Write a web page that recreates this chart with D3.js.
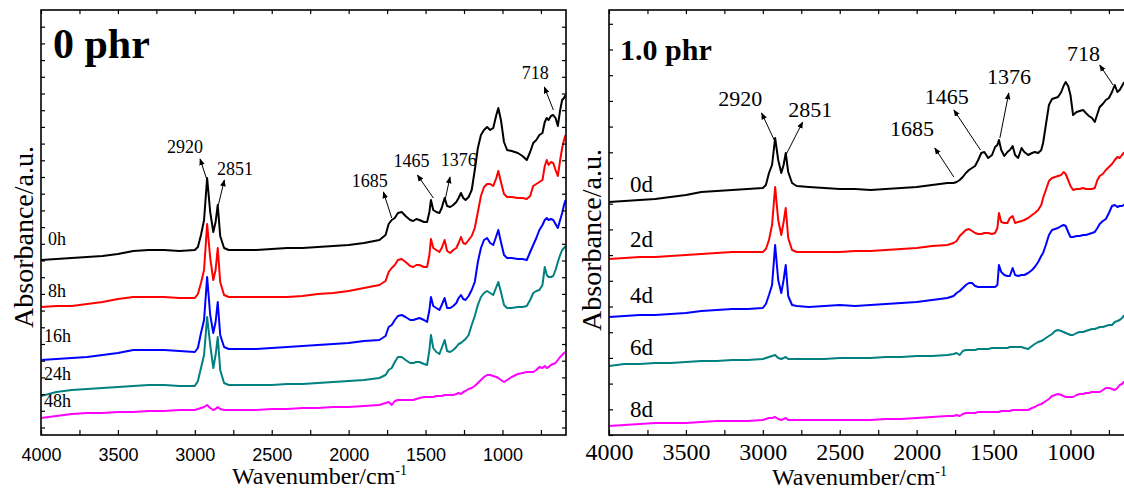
<!DOCTYPE html>
<html><head><meta charset="utf-8">
<script src="https://cdn.jsdelivr.net/npm/d3@7"></script>
<style>body{margin:0;background:#fff}</style>
</head><body><svg id="c" width="1124" height="490"></svg>
<script>
// ---------- Left panel (0 phr) ----------
const wnL = [4000,3900,3800,3700,3600,3500,3400,3300,3200,3100,3000,2980,2960,2940,2920,2900,2880,2865,2851,2835,2810,2780,2700,2600,2500,2400,2300,2200,2100,2000,1900,1800,1760,1740,1720,1700,1680,1655,1630,1600,1580,1560,1540,1510,1490,1475,1465,1450,1430,1410,1395,1376,1360,1340,1320,1300,1285,1270,1255,1240,1220,1200,1180,1160,1140,1120,1100,1080,1060,1040,1027,1010,990,970,940,900,870,842,820,800,780,760,740,725,712,700,685,670,655,640,625,612,600,590];
const abs0h = [175,176,177,178,179,181,184,185,185,184,185,188,200,215,257,223,203,213,230,199,187,185,185,185,186,187,187,188,189,190,192,195,200,211,215,217,222,223,219,215,214,216,215,213,213,223,235,225,223,222,227,237,229,228,230,233,237,242,237,235,238,245,265,287,300,305,308,305,307,320,327,315,293,285,284,282,279,275,283,292,295,300,302,313,317,315,319,320,317,309,325,335,337,340];
const abs8h = [128,129,129,131,133,136,138,138,138,137,137,141,152,165,211,177,155,165,187,153,140,138,138,138,138,138,139,141,142,144,147,150,154,163,167,170,175,176,173,169,168,170,170,168,168,180,196,187,185,183,187,195,184,182,185,187,192,198,192,191,195,199,207,223,239,248,251,251,249,257,264,253,241,238,238,237,237,236,239,249,251,253,255,269,275,270,273,272,265,259,275,287,295,300];
const abs16h = [75,76,77,78,80,82,85,85,85,84,83,87,102,115,158,120,102,113,133,100,88,86,86,86,87,88,89,90,91,92,94,95,99,108,110,115,119,120,118,115,115,116,117,115,113,125,138,129,127,125,130,137,127,127,129,132,137,140,136,135,139,145,153,173,187,195,197,192,190,199,205,193,180,177,177,176,176,175,183,190,197,205,210,215,217,215,216,215,211,207,215,222,230,235];
const abs24h = [39,43,45,46,47,48,49,50,50,49,49,54,67,80,118,90,67,80,98,65,52,50,50,50,50,51,51,52,53,54,55,57,60,65,67,73,78,78,75,72,72,73,73,71,70,85,100,87,83,81,87,95,84,83,85,88,91,92,94,96,100,110,119,130,138,142,144,142,140,148,153,143,130,127,127,128,128,129,135,142,144,145,150,168,160,158,158,159,165,173,180,185,187,189];
const abs48h = [17,19,21,22,22,23,23,24,24,25,25,26,27,28,30,27,25,26,28,26,25,25,25,25,26,26,27,27,28,28,29,30,32,33,30,34,35,35,35,35,35,36,37,38,38,38,38,38,39,39,39,40,40,40,40,41,42,41,43,44,46,47,49,52,55,58,60,60,59,58,57,55,53,55,58,61,62,63,63,63,65,68,67,69,67,68,70,71,72,75,78,80,82,83];
const seriesNamesL = ["0h","8h","16h","24h","48h"];
const labelWnL = [3954,3954,3980,3980,3980];
const labelAbsL = [190,138,93,55,28];
const peakTextL = ["2920","2851","1685","1465","1376","718"];
const peakTextWnL = [3181,2856,1980,1709,1401,875];
const peakTextAbsL = [282,260,248,268,269,356];
const arrowHeadWnL = [2966,2808,1774,1553,1341,728];
const arrowHeadAbsL = [276,255,243,260,258,348];
const arrowTailWnL = [2921,2847,1720,1449,1373,669];
const arrowTailAbsL = [255,230,217,237,235,325];

// ---------- Right panel (1.0 phr) ----------
const wnR = [4000,3900,3800,3700,3600,3500,3400,3300,3200,3100,3000,2980,2960,2940,2920,2900,2880,2865,2851,2835,2810,2780,2700,2600,2500,2400,2300,2200,2100,2000,1900,1800,1760,1740,1720,1700,1680,1660,1640,1620,1600,1580,1560,1535,1510,1490,1475,1465,1450,1430,1410,1394,1376,1360,1340,1318,1300,1275,1250,1232,1210,1190,1178,1160,1140,1120,1100,1081,1060,1045,1031,1015,1000,983,960,940,918,900,880,860,842,825,810,790,770,750,730,712,695,680,665,654,640,620,600,590];
const abs0d = [233,234,235,236,238,240,243,244,245,246,247,250,262,270,297,275,262,270,282,263,252,249,248,247,246,246,245,246,247,248,250,252,252,253,255,258,262,265,267,269,275,282,283,277,280,288,290,295,285,279,283,285,289,280,277,287,283,280,282,283,282,285,292,310,330,336,337,338,343,349,353,349,340,320,323,324,325,322,319,317,313,321,328,331,335,337,343,350,343,345,349,352,353,355,355,355];
const abs2d = [176,177,178,178,179,180,181,182,183,183,183,186,195,210,248,215,200,213,227,197,185,183,183,183,183,184,184,185,186,187,189,190,192,194,199,202,205,206,204,202,201,201,202,202,201,202,207,222,213,212,212,217,219,212,213,214,215,217,220,222,225,230,237,245,254,257,258,259,260,263,261,255,249,245,246,246,247,246,246,246,247,255,259,261,265,268,271,275,278,277,280,282,283,285,285,285];
const abs4d = [118,119,120,120,121,122,124,125,126,126,127,131,140,150,190,155,142,155,170,139,130,129,128,129,130,129,130,131,132,133,135,137,139,142,144,147,150,152,152,149,148,148,148,148,148,148,150,170,163,160,159,159,167,160,159,160,160,162,165,168,173,179,182,190,200,205,206,207,209,210,209,203,198,198,199,199,200,200,201,202,203,207,211,214,216,222,229,230,228,229,229,230,231,232,233,233];
const abs6d = [69,71,71,72,72,73,74,74,75,75,76,77,78,79,80,77,76,77,78,76,76,76,76,76,77,77,77,78,78,79,79,80,81,82,80,84,85,85,85,85,86,86,86,86,87,87,87,87,87,87,87,88,88,88,88,88,87,86,89,91,93,94,95,97,99,101,104,105,104,103,102,101,100,100,102,103,103,104,105,106,106,107,108,108,109,110,110,113,114,115,117,119,120,121,122,123];
const abs8d = [9,10,11,12,12,12,13,14,14,14,15,16,17,17,18,16,15,16,17,15,15,15,15,15,15,15,15,16,16,17,18,19,19,20,19,21,22,22,22,22,23,23,23,23,23,23,23,23,24,24,24,24,25,25,25,25,25,25,27,28,30,31,32,34,36,39,40,41,40,39,38,38,38,38,40,41,41,42,42,43,43,43,43,45,47,47,46,45,47,50,51,53,54,55,56,57];
const seriesNamesR = ["0d","2d","4d","6d","8d"];
const labelWnR = [3864,3864,3864,3864,3864];
const labelAbsR = [243,188,132,80,18];
const peakTextR = ["2920","2851","1685","1465","1376","718"];
const peakTextWnR = [3290,2835,2174,1947,1542,1022];
const peakTextAbsR = [329,318,299,331,351,374];
const arrowHeadWnR = [3008,2741,1882,1758,1401,810];
const arrowHeadAbsR = [322,313,287,325,342,370];
const arrowTailWnR = [2926,2850,1758,1585,1459,723];
const arrowTailAbsR = [295,280,258,285,297,350];

const colors = ["#000000","#ff0000","#0000ff","#008080","#ff00ff"];
const xMajorTicks = [4000,3500,3000,2500,2000,1500,1000];
const xMinorTicks = [3750,3250,2750,2250,1750,1250,750];

const svg = d3.select("#c");
const defs = svg.append("defs");
defs.append("marker").attr("id","arr").attr("viewBox","0 0 10 10").attr("refX",9).attr("refY",5)
  .attr("markerWidth",7).attr("markerHeight",7).attr("markerUnits","userSpaceOnUse").attr("orient","auto")
  .append("path").attr("d","M0,1 L10,5 L0,9 Z").attr("fill","#000");

function panel(cfg){
  const x = d3.scaleLinear().domain([4000,587]).range([cfg.x0, cfg.x0+525]);
  const y = d3.scaleLinear().domain([0,425]).range([435,10]);
  const g = svg.append("g");
  const cid = "clip"+cfg.id;
  defs.append("clipPath").attr("id",cid).append("rect")
    .attr("x",cfg.x0).attr("y",10).attr("width",525).attr("height",425);
  const plot = g.append("g").attr("clip-path",`url(#${cid})`);
  const line = d3.line().x(d=>x(d[0])).y(d=>y(d[1]));
  cfg.series.forEach((vals,i)=>{
    const pts = cfg.wn.map((w,j)=>[w,vals[j]]).filter(p=>p[1]!==undefined);
    plot.append("path").attr("d",line(pts)).attr("fill","none")
      .attr("stroke",colors[i]).attr("stroke-width",2).attr("stroke-linejoin","round");
  });
  const bottom = g.append("g").attr("transform","translate(0,435)")
    .call(d3.axisBottom(x).tickValues(xMajorTicks).tickSizeInner(-5).tickSizeOuter(0).tickPadding(cfg.tickPad).tickFormat(d3.format("d")));
  bottom.select(".domain").remove();
  bottom.selectAll("text").attr("font-family",cfg.tickFont).attr("font-size",cfg.tickSize).attr("fill","#000");
  g.append("g").attr("transform","translate(0,435)")
    .call(d3.axisBottom(x).tickValues(xMinorTicks).tickSizeInner(-5).tickSizeOuter(0).tickFormat(""))
    .select(".domain").remove();
  const top = g.append("g").attr("transform","translate(0,10)")
    .call(d3.axisTop(x).tickValues(xMajorTicks.concat(xMinorTicks)).tickSizeInner(-4).tickSizeOuter(0).tickFormat(""));
  top.select(".domain").remove();
  const yt = d3.range(cfg.yOff, 425, cfg.yStep);
  const left = g.append("g").attr("transform",`translate(${cfg.x0},0)`)
    .call(d3.axisLeft(y).tickValues(yt).tickSizeInner(-4).tickSizeOuter(0).tickFormat(""));
  left.select(".domain").remove();
  const right = g.append("g").attr("transform",`translate(${cfg.x0+525},0)`)
    .call(d3.axisRight(y).tickValues(yt).tickSizeInner(-4).tickSizeOuter(0).tickFormat(""));
  right.select(".domain").remove();
  g.selectAll(".tick line").attr("stroke","#000").attr("stroke-width",1.2);
  g.append("rect").attr("x",cfg.x0).attr("y",10).attr("width",525).attr("height",425)
    .attr("fill","none").attr("stroke","#000").attr("stroke-width",1.6);
  cfg.labels.forEach((t,i)=>{
    g.append("text").attr("x",x(cfg.labelWn[i])).attr("y",y(cfg.labelAbs[i]))
      .attr("font-family","Liberation Serif").attr("font-size",cfg.labelSize).text(t);
  });
  cfg.peaks.forEach((t,i)=>{
    g.append("text").attr("x",x(cfg.peakWn[i])).attr("y",y(cfg.peakAbs[i]))
      .attr("font-family","Liberation Serif").attr("font-size",cfg.peakSize).text(t);
    g.append("line").attr("x1",x(cfg.tailWn[i])).attr("y1",y(cfg.tailAbs[i]))
      .attr("x2",x(cfg.headWn[i])).attr("y2",y(cfg.headAbs[i]))
      .attr("stroke","#000").attr("stroke-width",1).attr("marker-end","url(#arr)");
  });
  g.append("text").attr("x",x(cfg.titleWn)).attr("y",y(cfg.titleAbs))
    .attr("font-family","Liberation Serif").attr("font-weight","bold").attr("font-size",cfg.titleSize).text(cfg.title);
  const xt = g.append("text").attr("x",cfg.xTitleX).attr("y",cfg.xTitleY)
    .attr("font-family","Liberation Serif").attr("font-size",24);
  xt.append("tspan").text("Wavenumber/cm");
  xt.append("tspan").attr("dy",-9).attr("font-size",14).text("-1");
  g.append("text").attr("transform",`translate(${cfg.yTitleX},${cfg.yTitleY}) rotate(-90)`)
    .attr("text-anchor","middle").attr("font-family","Liberation Serif").attr("font-size",28)
    .text("Absorbance/a.u.");
}

panel({id:"L", x0:41, wn:wnL, series:[abs0h,abs8h,abs16h,abs24h,abs48h],
  tickFont:"Liberation Sans", tickSize:18, tickPad:13, yStep:16.7, yOff:7.5,
  labels:seriesNamesL, labelWn:labelWnL, labelAbs:labelAbsL, labelSize:18,
  peaks:peakTextL, peakWn:peakTextWnL, peakAbs:peakTextAbsL, headWn:arrowHeadWnL, headAbs:arrowHeadAbsL,
  tailWn:arrowTailWnL, tailAbs:arrowTailAbsL, peakSize:18,
  title:"0 phr", titleWn:3922, titleAbs:377, titleSize:42, xTitleX:232, xTitleY:484, yTitleX:33, yTitleY:237});

panel({id:"R", x0:609, wn:wnR, series:[abs0d,abs2d,abs4d,abs6d,abs8d],
  tickFont:"Liberation Serif", tickSize:24, tickPad:8, yStep:25.7, yOff:0,
  labels:seriesNamesR, labelWn:labelWnR, labelAbs:labelAbsR, labelSize:23,
  peaks:peakTextR, peakWn:peakTextWnR, peakAbs:peakTextAbsR, headWn:arrowHeadWnR, headAbs:arrowHeadAbsR,
  tailWn:arrowTailWnR, tailAbs:arrowTailAbsR, peakSize:22,
  title:"1.0 phr", titleWn:3928, titleAbs:375, titleSize:30, xTitleX:772, xTitleY:485, yTitleX:601, yTitleY:240});
</script></body></html>
